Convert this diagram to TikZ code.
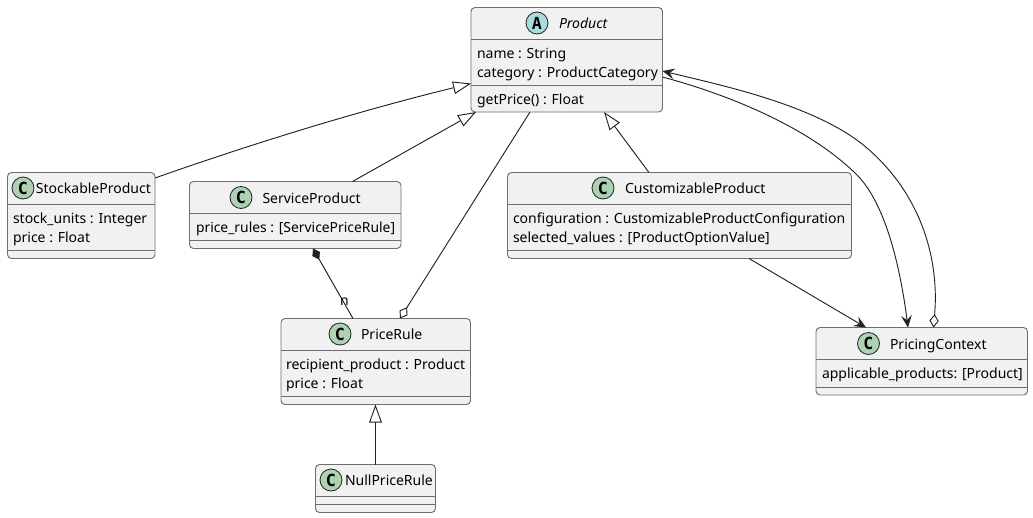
\documentclass[tikz,border=0pt]{standalone}
\usepackage{fontspec}
\setmainfont{Noto Sans}
\newfontfamily\spotfont{DejaVu Sans Mono}
\usetikzlibrary{arrows.meta,calc}
\definecolor{umlfill}{HTML}{F1F1F1}
\definecolor{umlline}{HTML}{6E6E6E}
\definecolor{linkline}{HTML}{222222}
\definecolor{spotC}{HTML}{ADD1B2}
\definecolor{spotA}{HTML}{A9DCDF}
\tikzset{
  classbox/.style={draw=umlline,fill=umlfill,line width=.7pt,rounded corners=3pt,inner sep=0pt,outer sep=0pt,anchor=north west},
  sep/.style={draw=umlline,line width=.7pt},
  spot/.style={circle,draw=linkline,line width=.6pt,minimum size=16.5pt,inner sep=0pt,text=black,font=\fontsize{12.5}{12.5}\spotfont\bfseries},
  label/.style={anchor=base west,inner sep=0pt,outer sep=0pt,text=black,font=\fontsize{10.5}{12}\selectfont},
  link/.style={draw=linkline,line width=.7pt},
  inherit/.style={link,{Triangle[open,fill=white,length=13.5pt,width=9.5pt,line width=.7pt]}-},
  arrowto/.style={link,-{Stealth[length=9pt,width=8pt,inset=3.4pt]}},
  aggr/.style={link,-{Diamond[open,fill=white,length=10pt,width=7pt,line width=.7pt]}},
  aggrarrow/.style={link,{Diamond[open,fill=white,length=10pt,width=7pt,line width=.7pt]}-{Stealth[length=9pt,width=8pt,inset=3.4pt]}},
  comp/.style={link,{Diamond[length=9.5pt,width=6.5pt]}-},
}
\newcommand{\umlbox}[5]{\node[classbox,minimum width={(#4-#2)*.75pt},minimum height={(#5-#3)*.75pt}] (#1) at (#2,#3) {};}
\newcommand{\hsep}[3]{\draw[sep] ([yshift={-(#2)*.75pt}]#1.north west) -- ([yshift={-(#2)*.75pt}]#1.north east);\draw[sep] ([yshift={-(#3)*.75pt}]#1.north west) -- ([yshift={-(#3)*.75pt}]#1.north east);}
\begin{document}
\begin{tikzpicture}[x=.75pt,y=-.75pt]
\useasboundingbox (0,0) rectangle (1033,518);
% Product
\umlbox{Product}{471}{7.5}{662.5}{112}
\hsep{Product}{32}{77.5}
\node[spot,fill=spotA] (ProductSpot) at (537,23) {A};
\node[label,font=\fontsize{10.5}{12}\selectfont\itshape] (ProductTitle) at (559,28) {Product};
\node[label] (pn) at (477,58) {name : String};
\node[label] (pc) at (477,77) {category : ProductCategory};
\node[label] (pg) at (477,104) {getPrice() : Float};
% StockableProduct
\umlbox{StockableProduct}{7.5}{172.5}{155}{258.5}
\hsep{StockableProduct}{32}{78}
\node[spot,fill=spotC] (StockSpot) at (23,188) {C};
\node[label] (StockTitle) at (36,193.5) {StockableProduct};
\node[label] (s1) at (13,223) {stock\_units : Integer};
\node[label] (s2) at (13,242) {price : Float};
% ServiceProduct
\umlbox{ServiceProduct}{189.5}{181.5}{401}{248.5}
\hsep{ServiceProduct}{32}{59}
\node[spot,fill=spotC] (ServSpot) at (241,197.5) {C};
\node[label] (ServTitle) at (262.5,203) {ServiceProduct};
\node[label,font=\fontsize{10.4}{12}\selectfont] (sv1) at (196,232) {price\_rules : [ServicePriceRule]};
% CustomizableProduct
\umlbox{CustomizableProduct}{507.5}{172.5}{851.5}{258.5}
\hsep{CustomizableProduct}{32}{78}
\node[spot,fill=spotC] (CustSpot) at (603,188) {C};
\node[label] (CustTitle) at (625,193.5) {CustomizableProduct};
\node[label] (c1) at (513,223) {configuration : CustomizableProductConfiguration};
\node[label] (c2) at (513,242) {selected\_values : [ProductOptionValue]};
% PriceRule
\umlbox{PriceRule}{281}{318.5}{470.5}{404.5}
\hsep{PriceRule}{32}{78}
\node[spot,fill=spotC] (RuleSpot) at (340,334) {C};
\node[label] (RuleTitle) at (361,339.5) {PriceRule};
\node[label] (r1) at (286,369) {recipient\_product : Product};
\node[label] (r2) at (286,388) {price : Float};
% NullPriceRule
\umlbox{NullPriceRule}{315.5}{464.5}{435.5}{512.5}
\hsep{NullPriceRule}{32}{40}
\node[spot,fill=spotC] (NullSpot) at (331,480) {C};
\node[label] (NullTitle) at (345,485.5) {NullPriceRule};
% PricingContext
\umlbox{PricingContext}{816}{327.5}{1027.5}{395}
\hsep{PricingContext}{32}{59.5}
\node[spot,fill=spotC] (CtxSpot) at (868.5,343.5) {C};
\node[label] (CtxTitle) at (890,349) {PricingContext};
\node[label] (x1) at (822,378) {applicable\_products: [Product]};
% connectors
\draw[inherit] ([shift={(0,76)}]Product.north west) .. controls (350,113) and (240,148) .. ([shift={(0,5.5)}]StockableProduct.north east);
\draw[inherit] ([shift={(5,0)}]Product.south west) -- ([shift={(163,0)}]ServiceProduct.north west);
\draw[aggr] ([shift={(59,0)}]Product.south west) -- ([shift={(119,0)}]PriceRule.north west);
\draw[inherit] ([shift={(133,0)}]Product.south west) -- ([shift={(141.5,0)}]CustomizableProduct.north west);
\draw[arrowto] ([shift={(241.5,0)}]CustomizableProduct.south west) -- ([shift={(50,0)}]PricingContext.north west);
\draw[arrowto] ([shift={(0,69.5)}]Product.north east) .. controls (730,95) and (810,128) .. (857,175) .. controls (885,203) and (900,265) .. ([shift={(92,0)}]PricingContext.north west);
\draw[aggrarrow] ([shift={(117.5,0)}]PricingContext.north west) .. controls (939,265) and (925,198) .. (867,148) .. controls (817,105) and (720,85) .. ([shift={(0,63.5)}]Product.north east);
\draw[comp] ([shift={(123.5,0)}]ServiceProduct.south west) -- ([shift={(72,0)}]PriceRule.north west);
\node[label] (nlabel) at (340,305.5) {n};
\draw[inherit] ([shift={(94.5,0)}]PriceRule.south west) -- ([shift={(60,0)}]NullPriceRule.north west);
\end{tikzpicture}
\end{document}
